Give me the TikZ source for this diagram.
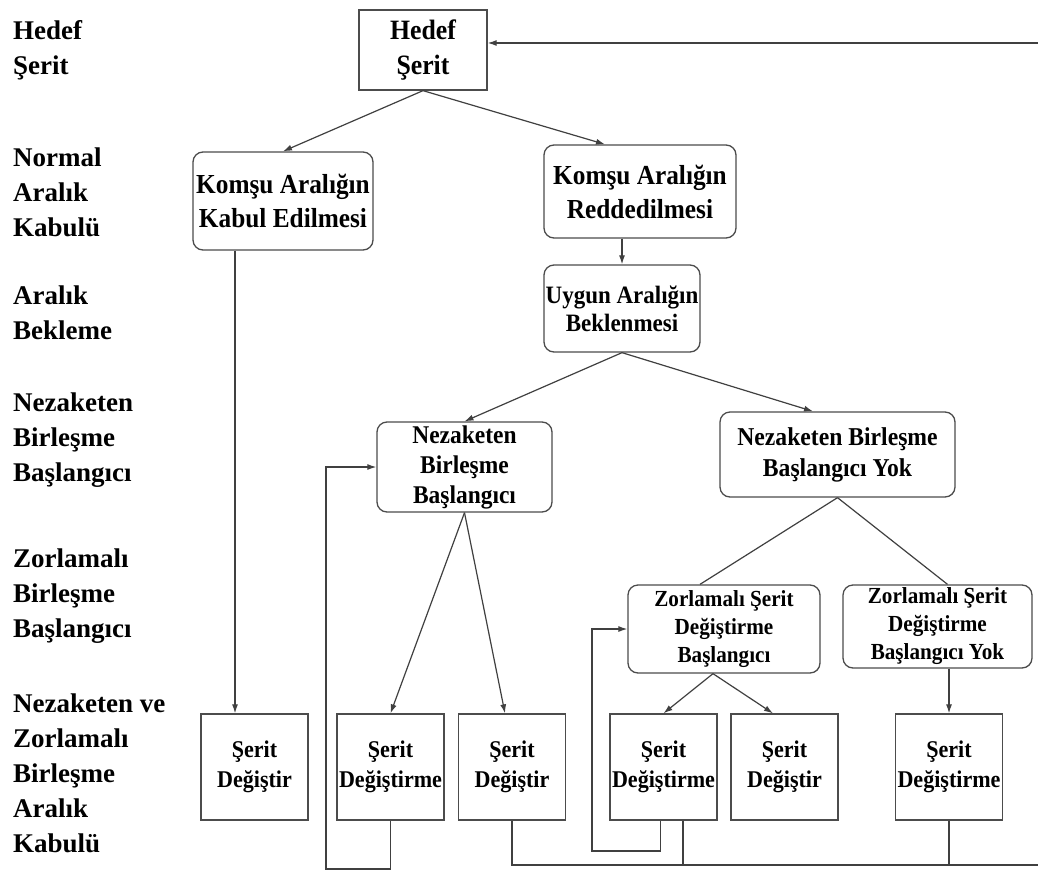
\documentclass[tikz,border=0pt]{standalone}
\usepackage{fontspec}
\setmainfont{Liberation Serif}
\newfontfamily\narrowserif[FakeStretch=0.92]{Liberation Serif}
\usetikzlibrary{arrows.meta,calc}
\begin{document}
\begin{tikzpicture}[x=1pt,y=-1pt,
  conn/.style={draw=black!75,line width=1.2pt},
  arr/.style={conn,-{Latex[length=9pt,width=6pt]}},
  rbox/.style={draw=black!70,line width=1.3pt,rounded corners=10pt,align=center,
    inner sep=0pt,font=\narrowserif\bfseries\fontsize{27.5}{34}\selectfont},
  zbox/.style={rbox,font=\narrowserif\bfseries\fontsize{23}{28}\selectfont},
  sbox/.style={draw=black!70,line width=1.3pt,align=center,minimum width=107pt,
    minimum height=106pt,inner sep=0pt,font=\narrowserif\bfseries\fontsize{24}{30}\selectfont},
  lvl/.style={anchor=west,align=left,inner sep=0pt,font=\bfseries\fontsize{27}{35}\selectfont}]
\useasboundingbox[fill=white] (0,0) rectangle (1038,883);

% level labels
\node[lvl] (l1) at (13,50)  {Hedef\\Şerit};
\node[lvl] (l2) at (13,192) {Normal\\Aralık\\Kabulü};
\node[lvl] (l3) at (13,313) {Aralık\\Bekleme};
\node[lvl] (l4) at (13,440) {Nezaketen\\Birleşme\\Başlangıcı};
\node[lvl] (l5) at (13,596) {Zorlamalı\\Birleşme\\Başlangıcı};
\node[lvl] (l6) at (13,773) {Nezaketen ve\\Zorlamalı\\Birleşme\\Aralık\\Kabulü};

% decision tree
\node[draw=black!70,line width=1.3pt,align=center,minimum width=128pt,minimum height=80pt,
  inner sep=0pt,font=\narrowserif\bfseries\fontsize{28}{35}\selectfont] (HS) at (423,50) {Hedef\\Şerit};
\node[rbox,minimum width=180pt,minimum height=98pt] (KA) at (283,201) {Komşu Aralığın\\Kabul Edilmesi};
\node[rbox,minimum width=192pt,minimum height=93pt] (KR) at (640,191.5) {Komşu Aralığın\\Reddedilmesi};
\node[rbox,minimum width=156pt,minimum height=87pt,font=\narrowserif\bfseries\fontsize{25}{28}\selectfont] (UA) at (622,308.5) {Uygun Aralığın\\Beklenmesi};
\node[rbox,minimum width=175pt,minimum height=90pt,font=\narrowserif\bfseries\fontsize{25.5}{30}\selectfont] (NB) at (464.5,467) {Nezaketen\\Birleşme\\Başlangıcı};
\node[rbox,minimum width=235pt,minimum height=85pt,font=\narrowserif\bfseries\fontsize{25.7}{31}\selectfont] (NBY) at (837.5,454.5) {Nezaketen Birleşme\\Başlangıcı Yok};
\node[zbox,minimum width=192pt,minimum height=88pt] (ZS) at (724,629) {Zorlamalı Şerit\\Değiştirme\\Başlangıcı};
\node[zbox,minimum width=189pt,minimum height=83pt] (ZSY) at (937.5,626.5) {Zorlamalı Şerit\\Değiştirme\\Başlangıcı Yok};

% outcome boxes
\node[sbox] (B1) at (254.5,767) {Şerit\\Değiştir};
\node[sbox] (B2) at (390.5,767) {Şerit\\Değiştirme};
\node[sbox] (B3) at (512,767)   {Şerit\\Değiştir};
\node[sbox] (B4) at (663.5,767) {Şerit\\Değiştirme};
\node[sbox] (B5) at (784.5,767) {Şerit\\Değiştir};
\node[sbox] (B6) at (949,767)   {Şerit\\Değiştirme};

% branches
\draw[arr] (HS.south) -- (KA.north);
\draw[arr] (HS.south) -- ([xshift=-35pt]KR.north);
\draw[arr] (UA.north |- KR.south) -- (UA.north);
\draw[arr] (UA.south) -- (NB.north);
\draw[arr] (UA.south) -- ([xshift=-24.5pt]NBY.north);
\coordinate (k1) at ([xshift=-19.5pt]B1.north);
\draw[arr] (k1 |- KA.south) -- (k1);
\draw[arr] (NB.south) -- (B2.north);
\draw[arr] (NB.south) -- ([xshift=-7pt]B3.north);
\draw[conn] (NBY.south) -- ([xshift=-24pt]ZS.north);
\draw[conn] (NBY.south) -- ([xshift=10pt]ZSY.north);
\draw[arr] ([xshift=-11pt]ZS.south) -- (B4.north);
\draw[arr] ([xshift=-11pt]ZS.south) -- ([xshift=-11.5pt]B5.north);
\draw[arr] (B6.north |- ZSY.south) -- (B6.north);

% feedback loops
\coordinate (f1) at (326,869);
\draw[arr] (B2.south) |- (f1) |- (NB.west);
\coordinate (f2) at (592,851);
\draw[arr] ([xshift=-3pt]B4.south) |- (f2) |- (ZS.west);

% return to the target lane
\coordinate (r1) at (1038,865);
\coordinate (r2) at (1038,43);
\draw[conn] (B3.south) |- (r1);
\draw[conn] ([xshift=19.5pt]B4.south) -- ([xshift=19.5pt]B4.south |- r1);
\draw[conn] (B6.south) -- (B6.south |- r1);
\draw[arr] (r2) -- (r2 -| HS.east);
\end{tikzpicture}
\end{document}
